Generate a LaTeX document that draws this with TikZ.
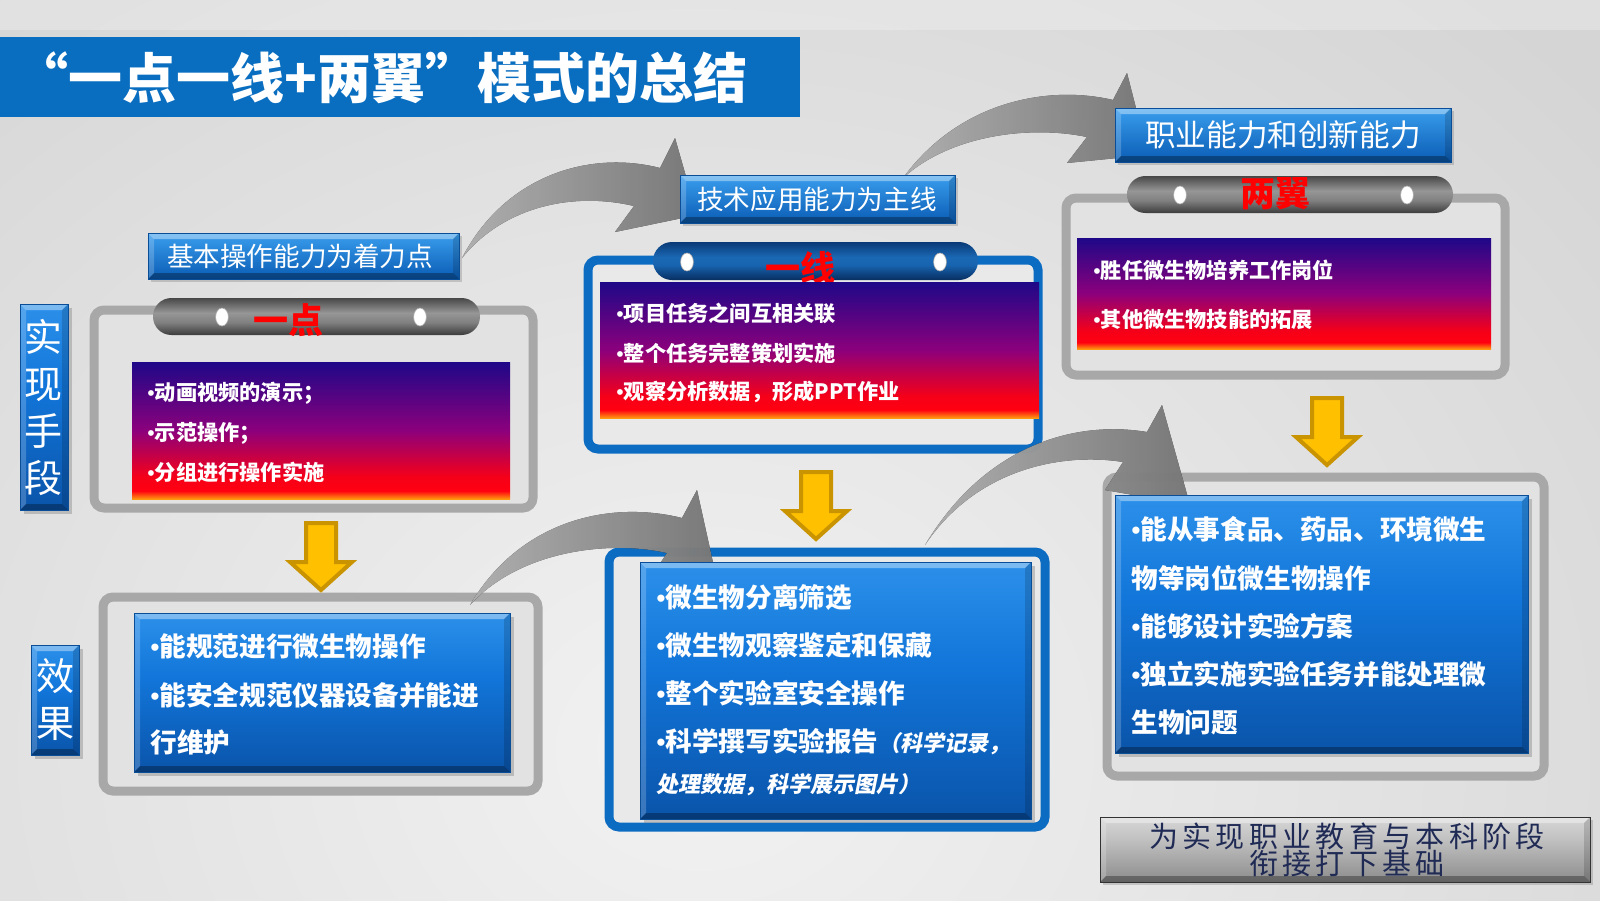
\documentclass[tikz,border=0pt]{standalone}
\usepackage{fontspec}
\setmainfont{Noto Sans CJK SC}
\newfontfamily\cjkit[FakeSlant=0.2]{Noto Sans CJK SC}
\newfontfamily\notefont[LetterSpace=15]{Noto Sans CJK SC}
\newfontfamily\bulfont{Liberation Sans}
\newcommand\bul{{\bulfont\mdseries •}}
\usetikzlibrary{shadows}
\definecolor{bgA}{HTML}{D5D5D5}
\definecolor{bgB}{HTML}{F2F2F2}
\definecolor{frgray}{HTML}{A8A8A8}
\definecolor{frin}{HTML}{E2E2E2}
\definecolor{frblue}{HTML}{0B6CC2}
\definecolor{frbluein}{HTML}{E9E9E9}
\definecolor{titleblue}{HTML}{0A6EC0}
\definecolor{gNavy}{HTML}{1E0888}
\definecolor{gPurple}{HTML}{8C007C}
\definecolor{gRed}{HTML}{FF0010}
\definecolor{gOrange}{HTML}{FF9A10}
\definecolor{yel}{HTML}{FFC000}
\definecolor{yelD}{HTML}{C99400}
\definecolor{navytext}{HTML}{1F2A55}
\definecolor{arrL}{HTML}{C8C8C8}
\definecolor{arrR}{HTML}{888888}
\definecolor{boxedge}{HTML}{0A4E98}
\pgfdeclareverticalshading{fireshade}{100bp}{color(0bp)=(gOrange); color(25bp)=(gOrange); color(28bp)=(gRed); color(33bp)=(gRed!92!gPurple); color(50bp)=(gPurple); color(75bp)=(gNavy); color(100bp)=(gNavy)}
\pgfdeclareverticalshading{headshade}{100bp}{color(0bp)=(rgb,255:red,10;green,92;blue,180); color(25bp)=(rgb,255:red,10;green,92;blue,180); color(75bp)=(rgb,255:red,58;green,158;blue,238); color(100bp)=(rgb,255:red,58;green,158;blue,238)}
\pgfdeclareverticalshading{boxshade}{100bp}{color(0bp)=(rgb,255:red,10;green,84;blue,170); color(25bp)=(rgb,255:red,10;green,84;blue,170); color(55bp)=(rgb,255:red,18;green,118;blue,218); color(75bp)=(rgb,255:red,44;green,144;blue,234); color(100bp)=(rgb,255:red,44;green,144;blue,234)}
\pgfdeclareverticalshading{pillgray}{100bp}{color(0bp)=(rgb,255:red,60;green,60;blue,60); color(25bp)=(rgb,255:red,60;green,60;blue,60); color(42bp)=(rgb,255:red,128;green,128;blue,128); color(55bp)=(rgb,255:red,150;green,150;blue,150); color(75bp)=(rgb,255:red,72;green,72;blue,72); color(100bp)=(rgb,255:red,72;green,72;blue,72)}
\pgfdeclareverticalshading{pillblue}{100bp}{color(0bp)=(rgb,255:red,8;green,46;blue,96); color(25bp)=(rgb,255:red,8;green,46;blue,96); color(45bp)=(rgb,255:red,24;green,100;blue,176); color(55bp)=(rgb,255:red,26;green,104;blue,180); color(75bp)=(rgb,255:red,10;green,58;blue,118); color(100bp)=(rgb,255:red,10;green,58;blue,118)}
\pgfdeclareverticalshading{silvershade}{100bp}{color(0bp)=(rgb,255:red,140;green,140;blue,140); color(25bp)=(rgb,255:red,140;green,140;blue,140); color(60bp)=(rgb,255:red,196;green,196;blue,196); color(75bp)=(rgb,255:red,214;green,214;blue,214); color(100bp)=(rgb,255:red,214;green,214;blue,214)}
\tikzset{
  grayframe/.style={draw=frgray, line width=4.5pt, fill=frin, rounded corners=5pt},
  blueframe/.style={draw=frblue, line width=4.5pt, fill=frbluein, rounded corners=5pt},
  curvearrow/.style={left color=arrL, right color=arrR, draw=none, opacity=.85},
  pillgraysty/.style={shading=pillgray, rounded corners=9.2pt},
  pillbluesty/.style={shading=pillblue, rounded corners=9.5pt},
  pilldot/.style={fill=white, draw=gray!70, line width=.3pt},
  pilllabel/.style={text=red, font=\bfseries\fontsize{17.5}{20}\selectfont, inner sep=0pt},
  bevelfx/.style={path picture={
    \fill[white,opacity=.38] (path picture bounding box.north west) -- (path picture bounding box.north east) -- ([shift={(-3pt,-3pt)}]path picture bounding box.north east) -- ([shift={(3pt,-3pt)}]path picture bounding box.north west) -- cycle;
    \fill[white,opacity=.2] (path picture bounding box.north west) -- ([shift={(3pt,-3pt)}]path picture bounding box.north west) -- ([shift={(3pt,3pt)}]path picture bounding box.south west) -- (path picture bounding box.south west) -- cycle;
    \fill[black,opacity=.15] (path picture bounding box.north east) -- (path picture bounding box.south east) -- ([shift={(-3pt,3pt)}]path picture bounding box.south east) -- ([shift={(-3pt,-3pt)}]path picture bounding box.north east) -- cycle;
    \fill[black,opacity=.3] (path picture bounding box.south west) -- (path picture bounding box.south east) -- ([shift={(-3pt,3pt)}]path picture bounding box.south east) -- ([shift={(3pt,3pt)}]path picture bounding box.south west) -- cycle;
  }},
  headersty/.style={shading=headshade, bevelfx, draw=boxedge, line width=.4pt, drop shadow={opacity=.35, shadow xshift=1.5pt, shadow yshift=-1.5pt}},
  blueboxsty/.style={shading=boxshade, bevelfx, draw=boxedge, line width=.4pt, drop shadow={opacity=.4, shadow xshift=2pt, shadow yshift=-2pt}},
  silversty/.style={shading=silvershade, bevelfx, draw=gray!40!black, line width=.5pt, drop shadow={opacity=.35, shadow xshift=1.5pt, shadow yshift=-1.5pt}},
  firesty/.style={shading=fireshade},
  yarrowsty/.style={fill=yel, draw=yelD, line width=2pt, line join=miter},
  headtext/.style={text=white, font=\fontsize{13.3}{16}\selectfont, inner sep=0pt},
  bodyA/.style={text=white, anchor=west, inner sep=0pt, font=\bfseries\fontsize{10.6}{13}\selectfont},
  bodyB/.style={text=white, anchor=west, inner sep=0pt, font=\bfseries\fontsize{13.3}{16}\selectfont},
  vlabel/.style={text=white, align=center, inner sep=0pt, font=\fontsize{19}{23.5}\selectfont},
}
\newcommand\yarrow[2]{%
  \draw[yarrowsty] ({#1-15},#2) -- ({#1+15},#2) -- ({#1+15},{#2+39}) -- ({#1+31},{#2+39}) -- (#1,{#2+67}) -- ({#1-31},{#2+39}) -- ({#1-15},{#2+39}) -- cycle;}
\begin{document}
\begin{tikzpicture}[x=0.5pt,y=-0.5pt]
\useasboundingbox (0,0) rectangle (1600,900);
% background
\fill[bgA] (0,0) rectangle (1600,900);
\begin{scope}
  \clip (0,0) rectangle (1600,900);
  \shade[inner color=bgB, outer color=bgA] (-500,-250) rectangle (1900,1750);
  \fill[white,opacity=.25] (0,0) rectangle (1600,30);
\end{scope}
% title
\fill[titleblue] (0,37) rectangle (800,117);
\node[text=white, font=\bfseries\fontsize{27}{30}\selectfont, inner sep=0pt, anchor=west] (title) at (14,78) {“一点一线+两翼”\hspace{-1pt}模式的总结};

% frames
\draw[grayframe] (94,310) rectangle (533,508);
\draw[blueframe] (588,260) rectangle (1038,449);
\draw[grayframe] (1066,198) rectangle (1505,375);
\draw[grayframe] (103,597) rectangle (538,791);
\draw[blueframe] (609,552) rectangle (1045,827);
\draw[grayframe] (1107,477) rectangle (1544,776);

% curved gray arrows
\fill[curvearrow] (462,258) .. controls (505,175) and (590,150) .. (660,168) -- (675,138) -- (697,215) -- (615,232) -- (634,206) .. controls (575,192) and (505,205) .. (462,258) -- cycle;
\fill[curvearrow] (903,178) .. controls (960,100) and (1050,85) .. (1113,100) -- (1127,73) -- (1148,155) -- (1067,163) -- (1087,137) .. controls (1030,125) and (950,135) .. (903,178) -- cycle;
\fill[curvearrow] (470,605) .. controls (520,520) and (610,500) .. (682,518) -- (697,490) -- (718,585) -- (647,583) -- (667,553) .. controls (610,540) and (520,550) .. (470,605) -- cycle;
\fill[curvearrow] (925,545) .. controls (985,445) and (1075,420) .. (1147,432) -- (1162,405) -- (1190,505) -- (1105,490) -- (1123,462) .. controls (1060,452) and (975,470) .. (925,545) -- cycle;

% pills
\path[pillgraysty] (153,298) rectangle (480,335);
\fill[pilldot] (222,317) ellipse [x radius=3.2pt, y radius=4.5pt];
\fill[pilldot] (420,317) ellipse [x radius=3.2pt, y radius=4.5pt];
\node[pilllabel] (p1) at (288,320) {一点};
\path[pillbluesty] (653,242) rectangle (978,280);
\fill[pilldot] (687,262) ellipse [x radius=3.2pt, y radius=4.5pt];
\fill[pilldot] (940,262) ellipse [x radius=3.2pt, y radius=4.5pt];
\node[pilllabel] (p2) at (800,268) {一线};
\path[pillgraysty] (1127,176) rectangle (1453,213);
\fill[pilldot] (1180,195) ellipse [x radius=3.2pt, y radius=4.5pt];
\fill[pilldot] (1407,195) ellipse [x radius=3.2pt, y radius=4.5pt];
\node[pilllabel] (p3) at (1275,194) {两翼};

% headers
\path[headersty] (148,233) rectangle (459,279);
\node[headtext] (h1) at (300,256) {基本操作能力为着力点};
\path[headersty] (680,175) rectangle (955,223);
\node[headtext] (h2) at (817,199) {技术应用能力为主线};
\path[headersty] (1115,108) rectangle (1451,162);
\node[headtext, font=\fontsize{15.3}{18}\selectfont] (h3) at (1283,135) {职业能力和创新能力};

% gradient boxes
\path[firesty] (132,362) rectangle (510,499);
\node[bodyA] (a1) at (147,393) {\bul 动画视频的演示；};
\node[bodyA] (a2) at (147,433) {\bul 示范操作；};
\node[bodyA] (a3) at (147,472) {\bul 分组进行操作实施};
\path[firesty] (600,282) rectangle (1039,418);
\node[bodyA] (b1) at (616,313) {\bul 项目任务之间互相关联};
\node[bodyA] (b2) at (616,353) {\bul 整个任务完整策划实施};
\node[bodyA] (b3) at (616,392) {\bul 观察分析数据，形成PPT作业};
\path[firesty] (1077,238) rectangle (1491,349);
\node[bodyA] (c1) at (1093,270) {\bul 胜任微生物培养工作岗位};
\node[bodyA] (c2) at (1093,320) {\bul 其他微生物技能的拓展};

% blue result boxes
\path[blueboxsty] (134,613) rectangle (510,772);
\node[bodyB] (d1) at (150,646) {\bul 能规范进行微生物操作};
\node[bodyB] (d2) at (150,695) {\bul 能安全规范仪器设备并能进};
\node[bodyB] (d3) at (150,742) {行维护};
\path[blueboxsty] (640,562) rectangle (1031,819);
\node[bodyB] (e1) at (656,597) {\bul 微生物分离筛选};
\node[bodyB] (e2) at (656,645) {\bul 微生物观察鉴定和保藏};
\node[bodyB] (e3) at (656,693) {\bul 整个实验室安全操作};
\node[bodyB] (e4) at (656,742) {\bul 科学撰写实验报告{\cjkit\fontsize{11}{13}\selectfont （科学记录，}};
\node[bodyB, font=\cjkit\bfseries\fontsize{11}{13}\selectfont] (e5) at (656,785) {处理数据，科学展示图片）};
\path[blueboxsty] (1115,495) rectangle (1528,753);
\node[bodyB] (f1) at (1131,529) {\bul 能从事食品、药品、环境微生};
\node[bodyB] (f2) at (1131,578) {物等岗位微生物操作};
\node[bodyB] (f3) at (1131,626) {\bul 能够设计实验方案};
\node[bodyB] (f4) at (1131,674) {\bul 独立实施实验任务并能处理微};
\node[bodyB] (f5) at (1131,722) {生物问题};

% yellow arrows
\yarrow{321}{523}
\yarrow{816}{472}
\yarrow{1327}{398}

% side labels
\path[blueboxsty] (20,304) rectangle (68,510);
\node[vlabel] (v1) at (44,407) {实\\现\\手\\段};
\path[blueboxsty] (31,645) rectangle (79,755);
\node[vlabel] (v2) at (55,700) {效\\果};

% bottom note
\path[silversty] (1100,817) rectangle (1590,882);
\node[text=navytext, align=center, inner sep=0pt, font=\notefont\fontsize{14.5}{13.5}\selectfont] (note) at (1347,850) {为实现职业教育与本科阶段\\衔接打下基础};
\end{tikzpicture}
\end{document}
